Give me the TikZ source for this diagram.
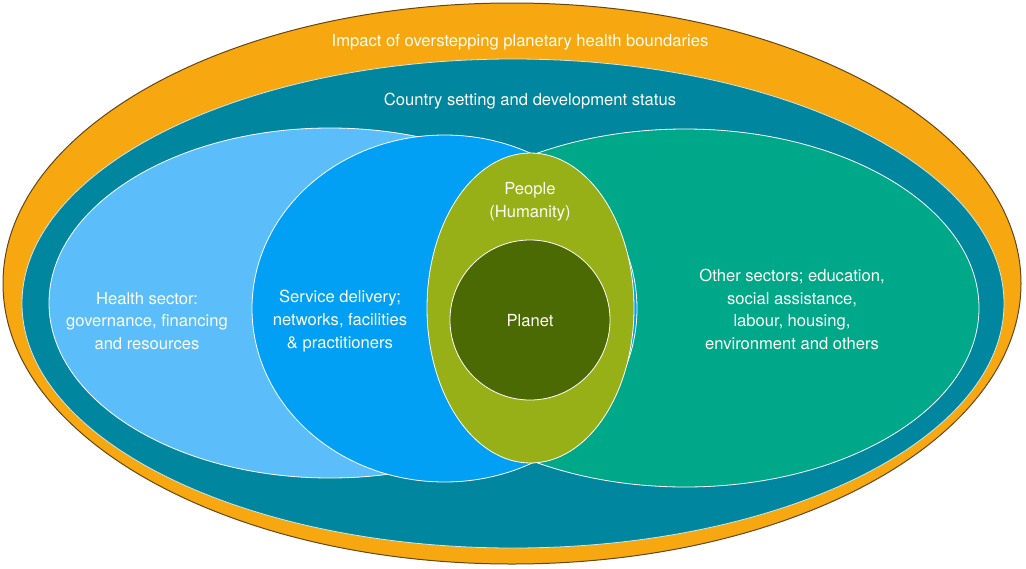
\documentclass[tikz,border=0pt]{standalone}
\usepackage{fontspec}
\setmainfont{TeX Gyre Heros}
\usetikzlibrary{shapes.geometric}
\definecolor{orangeband}{RGB}{247,168,17}
\definecolor{tealband}{RGB}{0,134,158}
\definecolor{lightblue}{RGB}{91,190,250}
\definecolor{midblue}{RGB}{2,160,245}
\definecolor{seagreen}{RGB}{0,168,138}
\definecolor{olivegreen}{RGB}{151,176,24}
\definecolor{darkolive}{RGB}{76,106,4}
\definecolor{outlinebrown}{RGB}{100,70,20}
\definecolor{paletext}{RGB}{252,252,244}
\begin{document}
\begin{tikzpicture}[x=1pt,y=-1pt,
  blob/.style={ellipse, inner sep=0pt, draw=white, line width=0.8pt},
  txt/.style={text=paletext, align=center, inner sep=0pt,
    font=\fontsize{16.6}{22.8}\selectfont}]
\useasboundingbox (0,0) rectangle (1026,568);
\node[blob, fill=orangeband, draw=outlinebrown, line width=1pt,
  minimum width=1018pt, minimum height=561pt] (outer) at (512,283.5) {};
\node[blob, fill=tealband, draw=white!80!tealband,
  minimum width=982pt, minimum height=489pt] (country) at (513,303.5) {};
\node[blob, fill=seagreen, minimum width=588pt, minimum height=358pt] (other) at (685,308) {};
\node[blob, fill=lightblue, minimum width=562pt, minimum height=350pt] (health) at (330,303) {};
\node[blob, fill=midblue, minimum width=385pt, minimum height=347pt] (service) at (444.5,308.5) {};
\node[blob, fill=olivegreen, minimum width=207pt, minimum height=310pt] (people) at (530.5,308) {};
\node[blob, fill=darkolive, minimum width=160pt, minimum height=160pt] (planet) at (530,320) {};
\node[txt] (timpact) at (520,42) {Impact of overstepping planetary health boundaries};
\node[txt] (tcountry) at (530,101) {Country setting and development status};
\node[txt] (thealth) at (147,321) {Health sector:\\governance, financing\\and resources};
\node[txt] (tservice) at (340,321) {Service delivery;\\networks, facilities\\\& practitioners};
\node[txt] (tpeople) at (530,202) {People\\(Humanity)};
\node[txt] (tplanet) at (530,321) {Planet};
\node[txt] (tother) at (792,309.5) {Other sectors; education,\\social assistance,\\labour, housing,\\environment and others};
\end{tikzpicture}
\end{document}
